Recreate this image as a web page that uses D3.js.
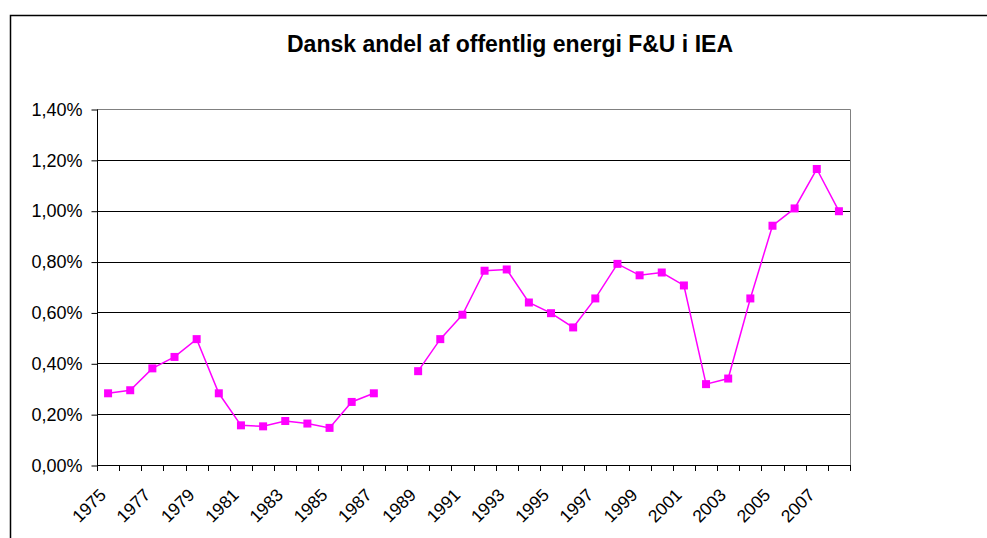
<!DOCTYPE html>
<html>
<head>
<meta charset="utf-8">
<title>Dansk andel af offentlig energi F&amp;U i IEA</title>
<script src="https://d3js.org/d3.v7.min.js"></script>
<style>
    body { margin: 0; background: #fff; }
    svg { display: block; font-family: "Liberation Sans", Arial, sans-serif; }
</style>
</head>
<body>
<div id="chart"></div>
<script>
// years on the category axis
const years = d3.range(1975, 2009);

// Danish share in percent (null = no data for that year)
const shares = [
    0.282, 0.294, 0.380, 0.425, 0.495, 0.282, 0.156, 0.152, 0.173, 0.163,
    0.146, 0.248, 0.282, null, 0.369, 0.495, 0.591, 0.764, 0.769, 0.639,
    0.597, 0.541, 0.655, 0.791, 0.746, 0.757, 0.706, 0.318, 0.340, 0.655,
    0.941, 1.009, 1.164, 0.998
];

const yTicks = [0, 0.2, 0.4, 0.6, 0.8, 1.0, 1.2, 1.4];
const xLabels = d3.range(1975, 2009, 2);

const title = "Dansk andel af offentlig energi F&U i IEA";

const width = 987, height = 538;
const plot = { left: 97, right: 850, top: 109, bottom: 465 };

const svg = d3.select("#chart").append("svg")
    .attr("width", width)
    .attr("height", height);

// chart area border (only top and left are visible in the frame)
svg.append("rect")
    .attr("x", 10.5).attr("y", 15.5)
    .attr("width", 1200).attr("height", 800)
    .attr("fill", "#fff")
    .attr("stroke", "#000")
    .attr("stroke-width", 1.5);

svg.append("text")
    .attr("x", 510).attr("y", 52)
    .attr("text-anchor", "middle")
    .attr("font-weight", "bold")
    .attr("font-size", "23px")
    .text(title);

const x = d3.scaleBand()
    .domain(years)
    .range([plot.left, plot.right]);

const y = d3.scaleLinear()
    .domain([0, 1.4])
    .range([plot.bottom, plot.top]);

// gridlines
svg.append("g")
    .selectAll("line")
    .data(yTicks.slice(1, -1))
    .join("line")
    .attr("x1", plot.left).attr("x2", plot.right)
    .attr("y1", d => Math.round(y(d)) + 0.5)
    .attr("y2", d => Math.round(y(d)) + 0.5)
    .attr("stroke", "#000")
    .attr("stroke-width", 1);

// plot area border (top and right in grey)
svg.append("path")
    .attr("d", `M${plot.left},${plot.top + 0.5}H${plot.right + 0.5}V${plot.bottom}`)
    .attr("fill", "none")
    .attr("stroke", "#808080")
    .attr("stroke-width", 1);

// y axis
const yAxis = svg.append("g")
    .attr("transform", `translate(${plot.left + 0.5},0.5)`)
    .call(d3.axisLeft(y)
        .tickValues(yTicks)
        .tickSize(6)
        .tickPadding(9)
        .tickFormat(d => d3.format(".2f")(d).replace(".", ",") + "%"));
yAxis.select(".domain").attr("d", `M0,${plot.top}V${plot.bottom}`).attr("stroke", "#000");
yAxis.selectAll(".tick line").attr("stroke", "#000");
yAxis.selectAll("text")
    .attr("font-size", "18px")
    .attr("fill", "#000")
    .attr("font-family", "Liberation Sans, Arial, sans-serif");

// x axis: line and ticks between categories
const bounds = years.map(d => x(d)).concat([x(years[years.length - 1]) + x.bandwidth()]);
const xAxis = svg.append("g");
xAxis.append("line")
    .attr("x1", plot.left).attr("x2", plot.right + 1)
    .attr("y1", plot.bottom + 0.5).attr("y2", plot.bottom + 0.5)
    .attr("stroke", "#000");
xAxis.selectAll("line.tk")
    .data(bounds)
    .join("line")
    .attr("class", "tk")
    .attr("x1", d => Math.round(d) + 0.5).attr("x2", d => Math.round(d) + 0.5)
    .attr("y1", plot.bottom).attr("y2", plot.bottom + 6)
    .attr("stroke", "#000");

xAxis.selectAll("text")
    .data(xLabels)
    .join("text")
    .attr("transform", d => `translate(${x(d) + x.bandwidth() / 2 - 1},${plot.bottom + 31}) rotate(-45)`)
    .attr("text-anchor", "end")
    .attr("font-size", "17.5px")
    .text(d => d);

// series
const pts = years.map((d, i) => ({ year: d, v: shares[i] }));

const line = d3.line()
    .defined(d => d.v !== null)
    .x(d => x(d.year) + x.bandwidth() / 2)
    .y(d => y(d.v));

svg.append("path")
    .datum(pts)
    .attr("d", line)
    .attr("fill", "none")
    .attr("stroke", "#ff00ff")
    .attr("stroke-width", 1.5);

const ms = 8;
svg.append("g")
    .selectAll("rect")
    .data(pts.filter(d => d.v !== null))
    .join("rect")
    .attr("x", d => x(d.year) + x.bandwidth() / 2 - ms / 2)
    .attr("y", d => y(d.v) - ms / 2)
    .attr("width", ms).attr("height", ms)
    .attr("fill", "#ff00ff");
</script>
</body>
</html>
